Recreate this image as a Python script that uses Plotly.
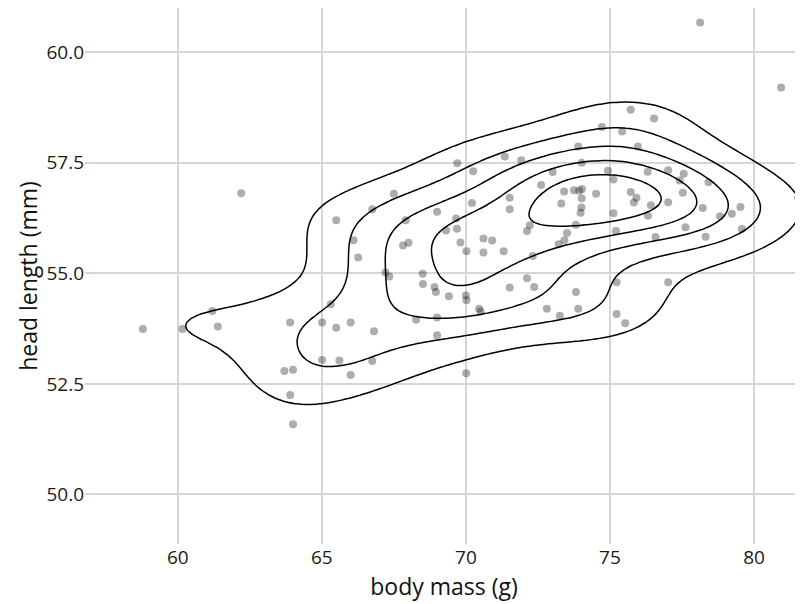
import numpy as np
import plotly.graph_objects as go

# ==========================================
# Data
# ==========================================

body_mass = [
    58.79, 60.16, 61.20, 61.39, 62.20, 63.70, 64.00, 63.90, 63.90, 64.00,
    65.01, 65.31, 65.50, 66.00, 65.01, 65.61, 66.00, 65.50, 66.10, 66.26,
    67.50, 66.75, 69.00, 70.21, 71.52, 71.52, 67.91, 69.66, 69.69, 69.31,
    67.82, 68.01, 69.81, 70.02, 70.61, 70.91, 70.61, 71.31, 72.32,
    67.21, 67.34, 68.50, 68.51, 68.91, 68.96, 69.41, 70.00, 70.02, 70.46,
    70.51, 71.52, 72.12, 72.37, 72.81, 73.26, 73.82, 73.90, 68.27, 69.00,
    66.81, 69.00, 66.75, 70.01, 72.22, 72.12, 73.82, 73.51, 73.42, 73.22,
    73.31, 74.01, 73.98, 75.12, 75.83, 75.92, 75.72, 76.42, 76.32, 77.02,
    77.53, 75.21, 76.58, 77.62, 78.22, 78.82, 79.23, 79.53, 79.58, 78.32,
    81.53, 75.23, 77.02, 75.23, 75.53, 74.52, 73.41, 73.75, 73.93, 74.03,
    74.02, 78.13, 80.94, 75.72, 76.53, 74.72, 75.42, 73.90, 75.97, 74.02,
    74.93, 75.12, 76.31, 77.02, 77.56, 77.42, 78.42, 69.70, 70.25, 71.35,
    71.92, 73.01, 72.61,
]

head_length = [
    53.74, 53.74, 54.15, 53.80, 56.81, 52.79, 52.82, 53.89, 52.25, 51.59,
    53.89, 54.30, 53.77, 53.89, 53.04, 53.03, 52.70, 56.20, 55.75, 55.36,
    56.80, 56.45, 56.39, 56.59, 56.71, 56.45, 56.20, 56.24, 56.01, 55.97,
    55.63, 55.69, 55.70, 55.50, 55.79, 55.74, 55.47, 55.50, 55.39,
    55.02, 54.93, 54.99, 54.76, 54.69, 54.58, 54.48, 54.50, 54.39, 54.20,
    54.14, 54.68, 54.89, 54.69, 54.20, 54.04, 54.58, 54.20, 53.95, 54.00,
    53.69, 53.60, 53.02, 52.74, 56.09, 55.96, 56.10, 55.91, 55.75, 55.66,
    56.58, 56.49, 56.37, 56.36, 56.60, 56.71, 56.84, 56.54, 56.30, 56.61,
    56.82, 55.96, 55.82, 56.04, 56.48, 56.29, 56.35, 56.50, 56.00, 55.83,
    56.71, 54.80, 54.80, 54.08, 53.87, 56.80, 56.85, 56.88, 56.87, 56.91,
    56.70, 60.67, 59.20, 58.70, 58.50, 58.31, 58.21, 57.87, 57.87, 57.50,
    57.32, 57.12, 57.30, 57.33, 57.25, 57.10, 57.06, 57.49, 57.31, 57.64,
    57.56, 57.29, 57.00,
]

x_ticks = [60, 65, 70, 75, 80]
y_ticks = [50.0, 52.5, 55.0, 57.5, 60.0]

# ==========================================
# 2D kernel density (like MASS::kde2d)
# ==========================================

x = np.array(body_mass)
y = np.array(head_length)
n = len(x)


def bandwidth_nrd(v):
    q75, q25 = np.percentile(v, [75, 25])
    return 4 * 1.06 * min(np.std(v, ddof=1), (q75 - q25) / 1.34) * n ** (-0.2)


hx = bandwidth_nrd(x) / 4
hy = bandwidth_nrd(y) / 4
gx = np.linspace(x.min(), x.max(), 100)
gy = np.linspace(y.min(), y.max(), 100)
kx = np.exp(-0.5 * ((gx[:, None] - x[None, :]) / hx) ** 2)
ky = np.exp(-0.5 * ((gy[:, None] - y[None, :]) / hy) ** 2)
dens = ky @ kx.T / (n * 2 * np.pi * hx * hy)


def pretty_step(lo, hi, nint=10):
    cell = (hi - lo) / nint
    base = 10 ** np.floor(np.log10(cell))
    unit = base
    if 2 * base - cell < 1.5 * (cell - unit):
        unit = 2 * base
        if 5 * base - cell < 2.75 * (cell - unit):
            unit = 5 * base
            if 10 * base - cell < 1.5 * (cell - unit):
                unit = 10 * base
    return unit


step = 2 * pretty_step(0, dens.max())

# ==========================================
# Figure
# ==========================================

fig = go.Figure()

fig.add_trace(go.Contour(
    x=gx, y=gy, z=dens,
    contours=dict(start=step, end=dens.max(), size=step,
                  coloring="lines", showlabels=False),
    colorscale=[[0, "black"], [1, "black"]],
    line=dict(width=1.5, color="black", smoothing=1),
    showscale=False,
    hoverinfo="skip",
))

fig.add_trace(go.Scatter(
    x=body_mass, y=head_length,
    mode="markers",
    marker=dict(size=8, color="rgba(0,0,0,0.32)", line=dict(width=0)),
    showlegend=False,
))

font = "Open Sans"

fig.update_xaxes(
    range=[56.78, 81.70],
    tickvals=x_ticks,
    showgrid=True, gridcolor="#d6d6d6", gridwidth=1.6,
    zeroline=False, showline=False, ticks="",
    tickfont=dict(family=font, size=19, color="#1a1a1a"),
    title=dict(text="body mass (g)", font=dict(family=font, size=23, color="#111"), standoff=5),
)

fig.update_yaxes(
    range=[48.88, 61.0],
    tickvals=y_ticks, tickformat=".1f",
    showgrid=True, gridcolor="#d6d6d6", gridwidth=1.6,
    zeroline=False, showline=False, ticks="",
    tickfont=dict(family=font, size=19, color="#1a1a1a"),
    title=dict(text="head length (mm)", font=dict(family=font, size=23, color="#111"), standoff=2),
)

# the page body adds an 8px offset, so margins are trimmed by that
fig.update_layout(
    width=803, height=604,
    margin=dict(l=77, r=8, t=0, b=68),
    plot_bgcolor="white", paper_bgcolor="white",
    showlegend=False,
)

fig.write_html("out.html")
